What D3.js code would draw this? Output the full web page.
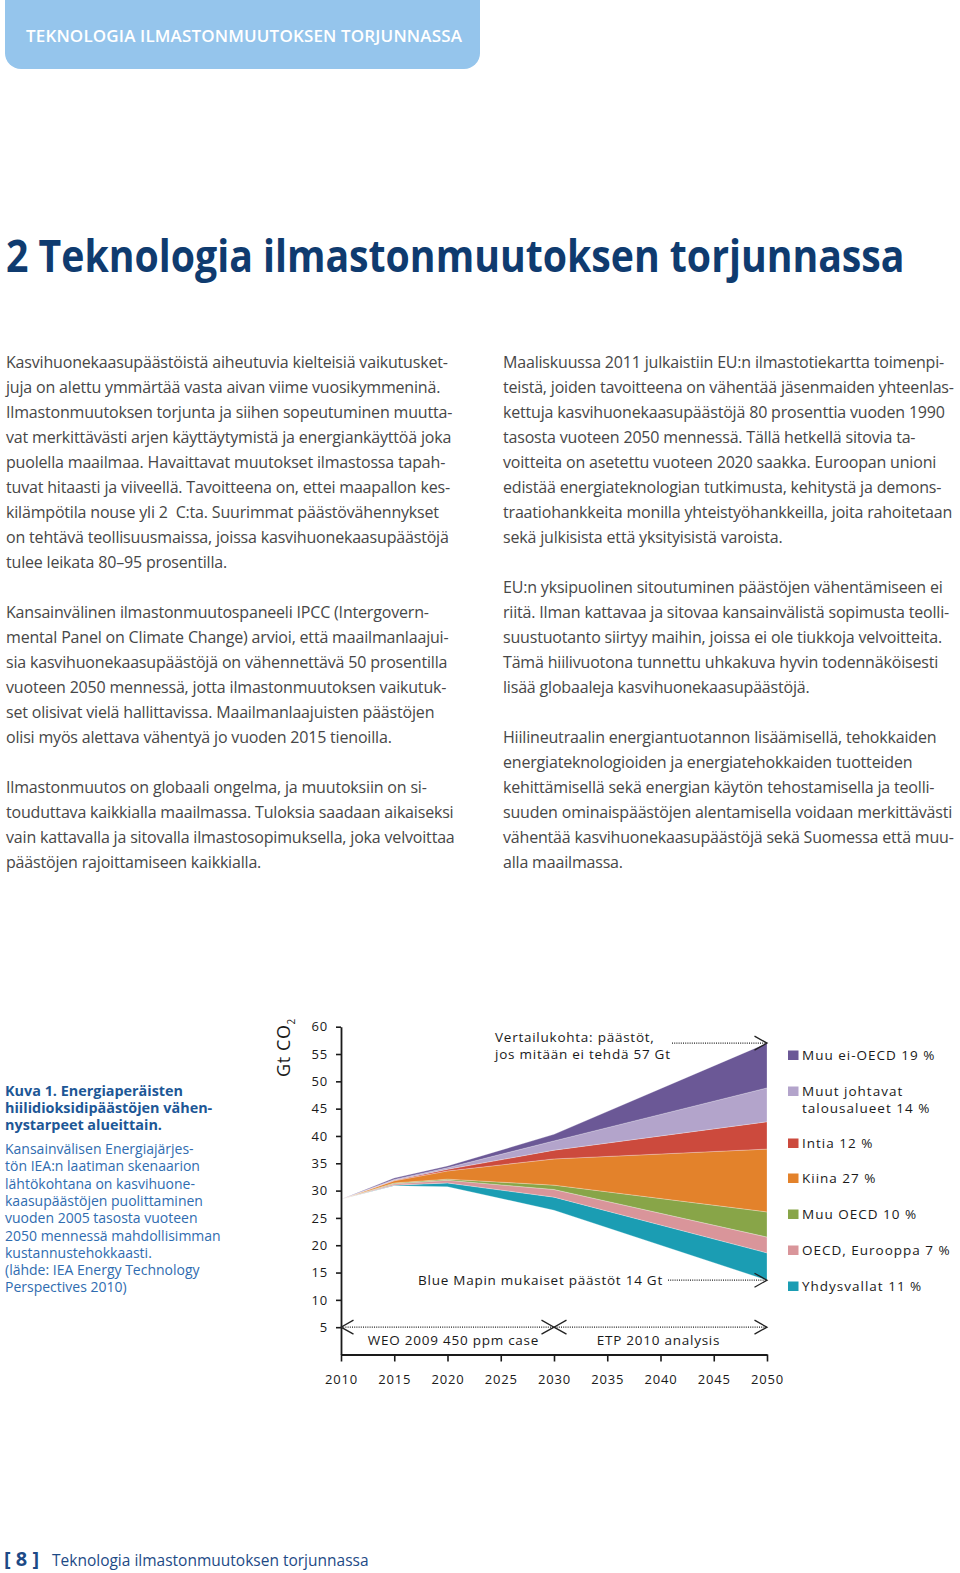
<!DOCTYPE html>
<html>
<head>
<meta charset="utf-8">
<script src="https://cdn.jsdelivr.net/npm/d3@7"></script>
<style>
  body { margin: 0; background: #fff; }
  svg { display: block; font-family: "Open Sans", sans-serif; }
  text { white-space: pre; }
</style>
</head>
<body>
<svg id="page" width="960" height="1573"></svg>
<script>
// ---- chart data (Gt CO2) ----
var years = [2010, 2015, 2020, 2030, 2050];
// Blue Map emissions path (bottom of the wedges)
var blueMap = [28.4, 30.9, 30.7, 26.4, 13.6];
// reductions per region, stacked from the bottom up
var usa = [0, 0.1, 0.7, 2.4, 5.0];
var oecdEurope = [0, 0.25, 0.5, 1.4, 2.9];
var otherOecd = [0, 0.15, 0.2, 0.8, 4.6];
var china = [0, 0.4, 1.5, 4.8, 11.5];
var india = [0, 0.1, 0.3, 1.6, 5.0];
var otherMajor = [0, 0.15, 0.3, 1.7, 6.2];
var otherNonOecd = [0, 0.25, 0.3, 1.2, 8.2];

var regionNames = ["Yhdysvallat", "OECD, Eurooppa", "Muu OECD", "Kiina", "Intia", "Muut johtavat\ntalousalueet", "Muu ei-OECD"];
var regionShares = [11, 7, 10, 27, 12, 14, 19];
var regionColors = ["#1b9db3", "#d9959a", "#88a548", "#e3822b", "#cc4a3d", "#b3a4cb", "#6b5896"];

var yTicks = [5, 10, 15, 20, 25, 30, 35, 40, 45, 50, 55, 60];
var xTicks = [2010, 2015, 2020, 2025, 2030, 2035, 2040, 2045, 2050];

// ---- page texts ----
var headerText = "TEKNOLOGIA ILMASTONMUUTOKSEN TORJUNNASSA";
var titleText = "2 Teknologia ilmastonmuutoksen torjunnassa";
var leftColumn = [
  "Kasvihuonekaasupäästöistä aiheutuvia kielteisiä vaikutusket-",
  "juja on alettu ymmärtää vasta aivan viime vuosikymmeninä.",
  "Ilmastonmuutoksen torjunta ja siihen sopeutuminen muutta-",
  "vat merkittävästi arjen käyttäytymistä ja energiankäyttöä joka",
  "puolella maailmaa. Havaittavat muutokset ilmastossa tapah-",
  "tuvat hitaasti ja viiveellä. Tavoitteena on, ettei maapallon kes-",
  "kilämpötila nouse yli 2  C:ta. Suurimmat päästövähennykset",
  "on tehtävä teollisuusmaissa, joissa kasvihuonekaasupäästöjä",
  "tulee leikata 80–95 prosentilla.",
  "",
  "Kansainvälinen ilmastonmuutospaneeli IPCC (Intergovern-",
  "mental Panel on Climate Change) arvioi, että maailmanlaajui-",
  "sia kasvihuonekaasupäästöjä on vähennettävä 50 prosentilla",
  "vuoteen 2050 mennessä, jotta ilmastonmuutoksen vaikutuk-",
  "set olisivat vielä hallittavissa. Maailmanlaajuisten päästöjen",
  "olisi myös alettava vähentyä jo vuoden 2015 tienoilla.",
  "",
  "Ilmastonmuutos on globaali ongelma, ja muutoksiin on si-",
  "touduttava kaikkialla maailmassa. Tuloksia saadaan aikaiseksi",
  "vain kattavalla ja sitovalla ilmastosopimuksella, joka velvoittaa",
  "päästöjen rajoittamiseen kaikkialla."
];
var rightColumn = [
  "Maaliskuussa 2011 julkaistiin EU:n ilmastotiekartta toimenpi-",
  "teistä, joiden tavoitteena on vähentää jäsenmaiden yhteenlas-",
  "kettuja kasvihuonekaasupäästöjä 80 prosenttia vuoden 1990",
  "tasosta vuoteen 2050 mennessä. Tällä hetkellä sitovia ta-",
  "voitteita on asetettu vuoteen 2020 saakka. Euroopan unioni",
  "edistää energiateknologian tutkimusta, kehitystä ja demons-",
  "traatiohankkeita monilla yhteistyöhankkeilla, joita rahoitetaan",
  "sekä julkisista että yksityisistä varoista.",
  "",
  "EU:n yksipuolinen sitoutuminen päästöjen vähentämiseen ei",
  "riitä. Ilman kattavaa ja sitovaa kansainvälistä sopimusta teolli-",
  "suustuotanto siirtyy maihin, joissa ei ole tiukkoja velvoitteita.",
  "Tämä hiilivuotona tunnettu uhkakuva hyvin todennäköisesti",
  "lisää globaaleja kasvihuonekaasupäästöjä.",
  "",
  "Hiilineutraalin energiantuotannon lisäämisellä, tehokkaiden",
  "energiateknologioiden ja energiatehokkaiden tuotteiden",
  "kehittämisellä sekä energian käytön tehostamisella ja teolli-",
  "suuden ominaispäästöjen alentamisella voidaan merkittävästi",
  "vähentää kasvihuonekaasupäästöjä sekä Suomessa että muu-",
  "alla maailmassa."
];
var captionBold = ["Kuva 1. Energiaperäisten", "hiilidioksidipäästöjen vähen-", "nystarpeet alueittain."];
var captionLines = [
  "Kansainvälisen Energiajärjes-",
  "tön IEA:n laatiman skenaarion",
  "lähtökohtana on kasvihuone-",
  "kaasupäästöjen puolittaminen",
  "vuoden 2005 tasosta vuoteen",
  "2050 mennessä mahdollisimman",
  "kustannustehokkaasti.",
  "(lähde: IEA Energy Technology",
  "Perspectives 2010)"
];

var svg = d3.select("#page");

// header tab
svg.append("rect")
  .attr("x", 5).attr("y", -30)
  .attr("width", 475).attr("height", 99)
  .attr("rx", 16)
  .attr("fill", "#95c5ec");
svg.append("text")
  .attr("x", 26).attr("y", 42)
  .attr("fill", "#fff")
  .style("font-size", "17px")
  .style("font-weight", 600)
  .style("letter-spacing", "0.15px")
  .text(headerText);

// title: condensed look, squeezed horizontally to the reference width
var title = svg.append("text")
  .attr("x", 0).attr("y", 0)
  .attr("fill", "#0f3b6f")
  .style("font-size", "45px")
  .style("font-weight", 700)
  .text(titleText);
var titleW = title.node().getComputedTextLength();
title.attr("transform", "translate(6,272) scale(" + (899 / titleW) + ",1)");

// body columns
function column(lines, x0) {
  svg.append("g")
    .selectAll("text")
    .data(lines)
    .join("text")
      .attr("x", x0)
      .attr("y", function(d, i) { return 368 + i * 25; })
      .attr("fill", "#474747")
      .style("font-size", "16px")
      .style("font-weight", 400)
      .style("letter-spacing", "-0.18px")
      .text(function(d) { return d; });
}
column(leftColumn, 6);
column(rightColumn, 503);

// caption
svg.append("g").selectAll("text")
  .data(captionBold)
  .join("text")
    .attr("x", 5)
    .attr("y", function(d, i) { return 1096 + i * 17.2; })
    .attr("fill", "#1d5796")
    .style("font-size", "14.4px")
    .style("font-weight", 700)
    .text(function(d) { return d; });
svg.append("g").selectAll("text")
  .data(captionLines)
  .join("text")
    .attr("x", 5)
    .attr("y", function(d, i) { return 1154 + i * 17.3; })
    .attr("fill", "#2f6cb0")
    .style("font-size", "14px")
    .text(function(d) { return d; });

// ---- chart ----
var x = d3.scaleLinear().domain([2010, 2050]).range([341, 767]);
var y = d3.scaleLinear().domain([0, 60]).range([1354.5, 1026.7]);

var keys = ["blueMap", "usa", "oecdEurope", "otherOecd", "china", "india", "otherMajor", "otherNonOecd"];
var series = [blueMap, usa, oecdEurope, otherOecd, china, india, otherMajor, otherNonOecd];
var table = years.map(function(yr, i) {
  var row = {year: yr};
  keys.forEach(function(k, j) { row[k] = series[j][i]; });
  return row;
});
var stacked = d3.stack().keys(keys)(table);

var area = d3.area()
  .x(function(d) { return x(d.data.year); })
  .y0(function(d) { return y(d[0]); })
  .y1(function(d) { return y(d[1]); });

svg.append("g")
  .selectAll("path")
  .data(stacked.slice(1))
  .join("path")
    .attr("d", area)
    .attr("fill", function(d, i) { return regionColors[i]; })
    .attr("stroke", "#fff")
    .attr("stroke-opacity", 0.45)
    .attr("stroke-width", 0.6);

var yAxis = svg.append("g")
  .attr("transform", "translate(" + x(2010) + ",0)")
  .call(d3.axisLeft(y).tickValues(yTicks).tickSize(5).tickSizeOuter(0).tickPadding(8));
var xAxis = svg.append("g")
  .attr("transform", "translate(0," + y(0) + ")")
  .call(d3.axisBottom(x).tickValues(xTicks).tickSize(7).tickSizeOuter(0).tickPadding(13).tickFormat(d3.format("d")));

[yAxis, xAxis].forEach(function(ax) {
  ax.select(".domain").attr("stroke", "#1a1a1a").attr("stroke-width", 1.8);
  ax.selectAll(".tick line").attr("stroke", "#1a1a1a").attr("stroke-width", 1.6);
  ax.selectAll(".tick text")
    .attr("fill", "#1a1a1a")
    .style("font-family", "'Open Sans', sans-serif")
    .style("font-size", "13px")
    .style("letter-spacing", "0.8px");
});

// axis title
svg.append("text")
  .attr("transform", "translate(290," + 1077 + ") rotate(-90)")
  .attr("fill", "#1a1a1a")
  .style("font-size", "18px")
  .style("letter-spacing", "0.6px")
  .text("Gt CO")
  .append("tspan")
    .attr("dy", 5)
    .style("font-size", "10px")
    .text("2");

// annotations
var ann = svg.append("g").attr("fill", "none").attr("stroke", "#222");
function dotted(x1, x2, yy) {
  ann.append("line")
    .attr("x1", x1).attr("x2", x2)
    .attr("y1", yy).attr("y2", yy)
    .attr("stroke-width", 1.2)
    .attr("stroke-dasharray", "1,1.2");
}
function chevron(tx, ty, dir) {
  ann.append("path")
    .attr("d", "M" + (tx - dir * 12.5) + "," + (ty - 7) + "L" + tx + "," + ty + "L" + (tx - dir * 12.5) + "," + (ty + 7))
    .attr("stroke-width", 1.3);
}
var top2050 = blueMap[4] + usa[4] + oecdEurope[4] + otherOecd[4] + china[4] + india[4] + otherMajor[4] + otherNonOecd[4];
dotted(672, x(2050), y(top2050));
chevron(x(2050), y(top2050), 1);
dotted(668, x(2050), y(blueMap[4]));
chevron(x(2050), y(blueMap[4]), 1);
dotted(x(2010), x(2050), y(5));
chevron(x(2010), y(5), -1);
chevron(x(2030), y(5), 1);
chevron(x(2030), y(5), -1);
chevron(x(2050), y(5), 1);

var chartText = svg.append("g")
  .attr("fill", "#1a1a1a")
  .style("font-size", "13.5px")
  .style("letter-spacing", "0.75px");
chartText.append("text").attr("x", 495).attr("y", 1042).text("Vertailukohta: päästöt,");
chartText.append("text").attr("x", 495).attr("y", 1059).text("jos mitään ei tehdä " + Math.round(top2050) + " Gt");
chartText.append("text").attr("x", 663).attr("y", 1284.5).attr("text-anchor", "end")
  .text("Blue Mapin mukaiset päästöt " + Math.round(blueMap[4]) + " Gt");
chartText.append("text").attr("x", (x(2010) + x(2030)) / 2 + 6).attr("y", 1345).attr("text-anchor", "middle")
  .text("WEO 2009 450 ppm case");
chartText.append("text").attr("x", (x(2030) + x(2050)) / 2 - 2).attr("y", 1345).attr("text-anchor", "middle")
  .text("ETP 2010 analysis");

// legend (top entry = top wedge)
var legendOrder = d3.range(regionNames.length).reverse();
var legendY = [1060, 1096, 1148, 1183, 1219, 1255, 1291];
var legend = svg.append("g")
  .selectAll("g")
  .data(legendOrder)
  .join("g")
    .attr("transform", function(d, i) { return "translate(788," + legendY[i] + ")"; });
legend.append("rect")
  .attr("x", 0).attr("y", -9.5)
  .attr("width", 10.5).attr("height", 9.5)
  .attr("fill", function(d) { return regionColors[d]; });
legend.append("text")
  .attr("x", 14)
  .attr("fill", "#1a1a1a")
  .style("font-size", "13.5px")
  .style("letter-spacing", "1px")
  .each(function(d) {
    var parts = (regionNames[d] + " " + regionShares[d] + " %").split("\n");
    d3.select(this).selectAll("tspan")
      .data(parts)
      .join("tspan")
        .attr("x", 14)
        .attr("dy", function(p, i) { return i ? 17 : 0; })
        .text(function(p) { return p; });
  });

// footer
svg.append("text")
  .attr("x", 4).attr("y", 1566)
  .attr("fill", "#1d4a86")
  .style("font-size", "20px")
  .style("font-weight", 700)
  .text("[ 8 ]");
svg.append("text")
  .attr("x", 52).attr("y", 1566)
  .attr("fill", "#1d4a86")
  .style("font-size", "15.5px")
  .text("Teknologia ilmastonmuutoksen torjunnassa");
</script>
</body>
</html>
